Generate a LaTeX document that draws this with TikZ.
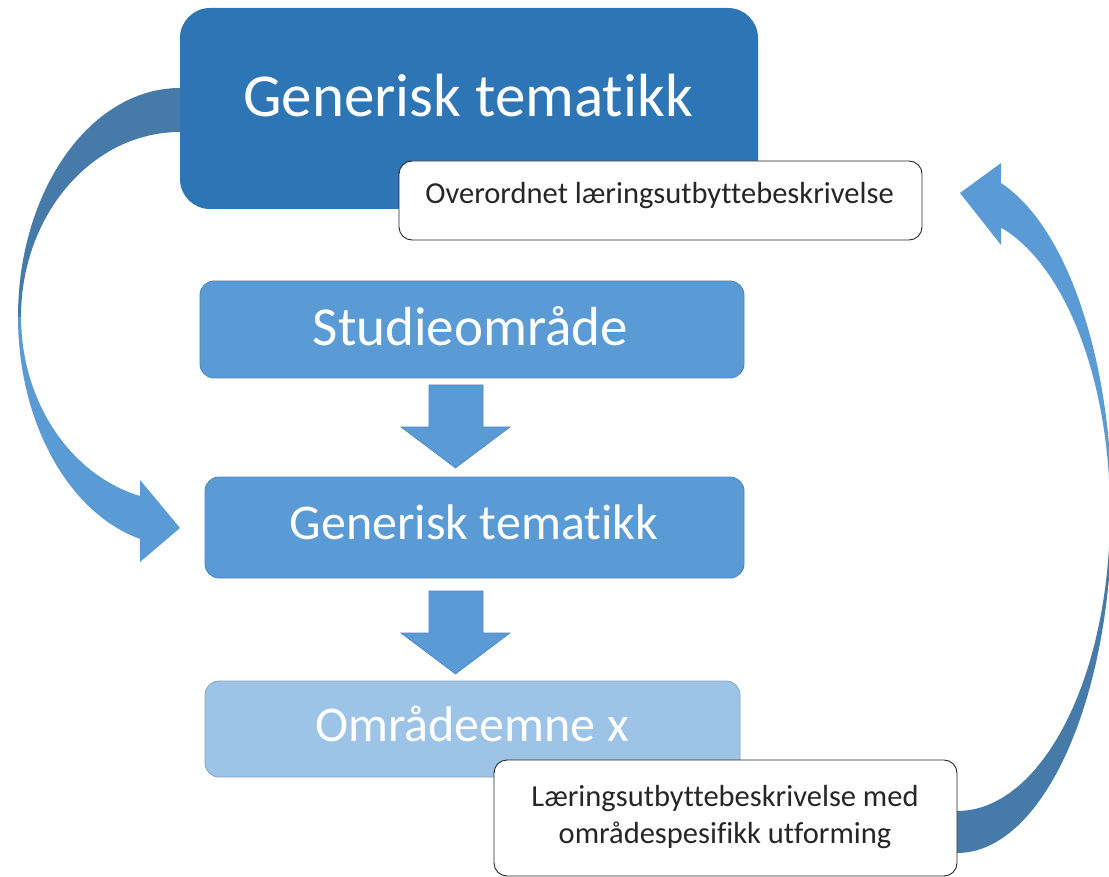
\documentclass[tikz,border=0pt]{standalone}
\usepackage{fontspec}
\setmainfont{Carlito}[Ligatures=NoCommon]
\definecolor{topblue}{HTML}{2E75B6}
\definecolor{midblue}{HTML}{5B9BD5}
\definecolor{lightblue}{HTML}{9DC3E6}
\definecolor{arrdark}{HTML}{467AA8}
\definecolor{edgeblue}{HTML}{4A86C0}
\begin{document}
\begin{tikzpicture}[x=1pt,y=1pt,
  topbox/.style={rectangle, rounded corners=30pt, fill=topblue, minimum width=578pt, minimum height=201pt, inner sep=0pt},
  midbox/.style={rectangle, rounded corners=14pt, fill=midblue, draw=edgeblue, line width=0.8pt, inner sep=0pt},
  lightbox/.style={rectangle, rounded corners=14pt, fill=lightblue, draw=lightblue!85!black, line width=0.8pt, inner sep=0pt},
  notebox/.style={rectangle, rounded corners=13pt, fill=white, draw=black!85, line width=0.9pt, inner sep=0pt},
  bigtext/.style={text=white, inner sep=0pt, anchor=base},
  notetext/.style={text=black!85, inner sep=0pt, anchor=base, font=\fontsize{30.5}{37}\selectfont, align=center},
  arrowlight/.style={fill=midblue},
  arrowdark/.style={fill=arrdark},
  downarrow/.style={fill=midblue, draw=edgeblue, line width=0.6pt}
]
\useasboundingbox (0,0) rectangle (1109,-877);

% left curved arrow (behind boxes)
\path[arrowdark] (180,-88) arc[start angle=90, end angle=180, x radius=162, y radius=229]
  -- (21,-317) arc[start angle=180, end angle=90, x radius=159, y radius=185] -- cycle;
\path[arrowlight] (18,-317) arc[start angle=180, end angle=255.7, x radius=162, y radius=229]
  -- (140,-562) -- (180,-528) -- (140,-480) -- (140,-496)
  arc[start angle=255.4, end angle=180, x radius=159, y radius=185] -- cycle;

% right curved arrow
\path[arrowdark] (957,-853) arc[start angle=270, end angle=360, x radius=155, y radius=342]
  -- (1110,-513) arc[start angle=0, end angle=-90, x radius=153, y radius=298] -- cycle;
\path[arrowlight] (1112,-511) arc[start angle=0, end angle=73.5, x radius=155, y radius=342]
  -- (1001,-163) -- (960,-193) -- (1001,-245) -- (1001,-227.6)
  arc[start angle=73.3, end angle=0, x radius=153, y radius=298] -- cycle;

% boxes
\node[topbox] (g1) at (469,-108.5) {};
\node[bigtext, font=\fontsize{61}{61}\selectfont] (g1t) at (468,-117) {Generisk tematikk};

\node[notebox, minimum width=523pt, minimum height=79pt] (n1) at (660.5,-200.5) {};
\node[notetext] (n1t) at (659.5,-204) {Overordnet læringsutbyttebeskrivelse};

\node[midbox, minimum width=544pt, minimum height=97pt] (s) at (472,-329.5) {};
\node[bigtext, font=\fontsize{55}{55}\selectfont] (st) at (470.5,-346) {Studieområde};

\node[midbox, minimum width=539pt, minimum height=101pt] (g2) at (474.5,-527.5) {};
\node[bigtext, font=\fontsize{50}{50}\selectfont] (g2t) at (474,-539) {Generisk tematikk};

\node[lightbox, minimum width=535pt, minimum height=96pt] (o) at (472.5,-729) {};
\node[bigtext, font=\fontsize{50}{50}\selectfont] (ot) at (472,-741) {Områdeemne x};

\node[notebox, minimum width=463pt, minimum height=116pt] (n2) at (725.5,-818) {};
\node[notetext, anchor=north] (n2t) at (725,-785) {Læringsutbyttebeskrivelse med\\områdespesifikk utforming};

% down arrows
\path[downarrow] (429,-385) -- (483,-385) -- (483,-427) -- (510,-427) -- (455.5,-468)
  -- (401,-427) -- (429,-427) -- cycle;
\path[downarrow] (429,-591) -- (483,-591) -- (483,-633) -- (510,-633) -- (455.5,-674)
  -- (401,-633) -- (429,-633) -- cycle;
\end{tikzpicture}
\end{document}
